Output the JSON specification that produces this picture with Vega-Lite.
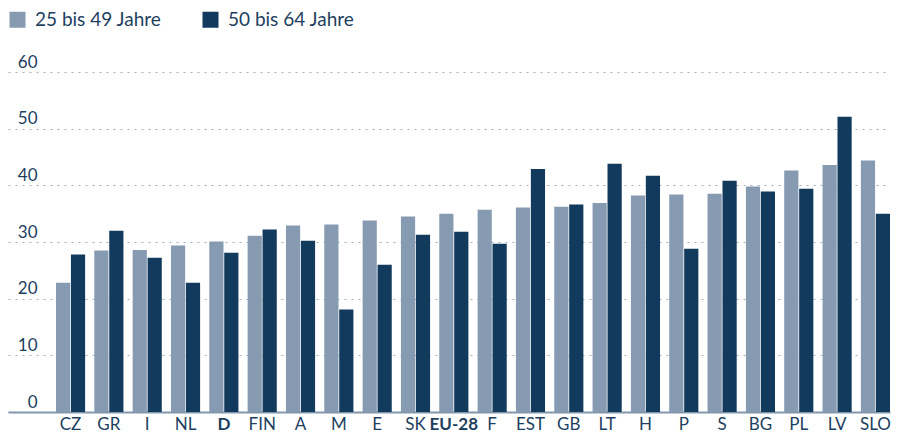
{
  "$schema": "https://vega.github.io/schema/vega-lite/v6.json",
  "width": 882,
  "height": 340,
  "autosize": "none",
  "padding": {"left": 8, "top": 72, "right": 7, "bottom": 22},
  "background": "white",
  "config": {
    "font": "Lato",
    "view": {"stroke": null}
  },
  "data": {
    "values": [
      {"land": "CZ", "gruppe": "25 bis 49 Jahre", "wert": 22.8},
      {"land": "CZ", "gruppe": "50 bis 64 Jahre", "wert": 27.8},
      {"land": "GR", "gruppe": "25 bis 49 Jahre", "wert": 28.5},
      {"land": "GR", "gruppe": "50 bis 64 Jahre", "wert": 32.0},
      {"land": "I", "gruppe": "25 bis 49 Jahre", "wert": 28.6},
      {"land": "I", "gruppe": "50 bis 64 Jahre", "wert": 27.2},
      {"land": "NL", "gruppe": "25 bis 49 Jahre", "wert": 29.4},
      {"land": "NL", "gruppe": "50 bis 64 Jahre", "wert": 22.8},
      {"land": "D", "gruppe": "25 bis 49 Jahre", "wert": 30.1},
      {"land": "D", "gruppe": "50 bis 64 Jahre", "wert": 28.1},
      {"land": "FIN", "gruppe": "25 bis 49 Jahre", "wert": 31.1},
      {"land": "FIN", "gruppe": "50 bis 64 Jahre", "wert": 32.2},
      {"land": "A", "gruppe": "25 bis 49 Jahre", "wert": 32.9},
      {"land": "A", "gruppe": "50 bis 64 Jahre", "wert": 30.2},
      {"land": "M", "gruppe": "25 bis 49 Jahre", "wert": 33.1},
      {"land": "M", "gruppe": "50 bis 64 Jahre", "wert": 18.1},
      {"land": "E", "gruppe": "25 bis 49 Jahre", "wert": 33.8},
      {"land": "E", "gruppe": "50 bis 64 Jahre", "wert": 26.0},
      {"land": "SK", "gruppe": "25 bis 49 Jahre", "wert": 34.5},
      {"land": "SK", "gruppe": "50 bis 64 Jahre", "wert": 31.3},
      {"land": "EU-28", "gruppe": "25 bis 49 Jahre", "wert": 35.0},
      {"land": "EU-28", "gruppe": "50 bis 64 Jahre", "wert": 31.8},
      {"land": "F", "gruppe": "25 bis 49 Jahre", "wert": 35.7},
      {"land": "F", "gruppe": "50 bis 64 Jahre", "wert": 29.7},
      {"land": "EST", "gruppe": "25 bis 49 Jahre", "wert": 36.1},
      {"land": "EST", "gruppe": "50 bis 64 Jahre", "wert": 42.9},
      {"land": "GB", "gruppe": "25 bis 49 Jahre", "wert": 36.2},
      {"land": "GB", "gruppe": "50 bis 64 Jahre", "wert": 36.6},
      {"land": "LT", "gruppe": "25 bis 49 Jahre", "wert": 36.9},
      {"land": "LT", "gruppe": "50 bis 64 Jahre", "wert": 43.8},
      {"land": "H", "gruppe": "25 bis 49 Jahre", "wert": 38.2},
      {"land": "H", "gruppe": "50 bis 64 Jahre", "wert": 41.7},
      {"land": "P", "gruppe": "25 bis 49 Jahre", "wert": 38.4},
      {"land": "P", "gruppe": "50 bis 64 Jahre", "wert": 28.8},
      {"land": "S", "gruppe": "25 bis 49 Jahre", "wert": 38.5},
      {"land": "S", "gruppe": "50 bis 64 Jahre", "wert": 40.8},
      {"land": "BG", "gruppe": "25 bis 49 Jahre", "wert": 39.8},
      {"land": "BG", "gruppe": "50 bis 64 Jahre", "wert": 38.9},
      {"land": "PL", "gruppe": "25 bis 49 Jahre", "wert": 42.6},
      {"land": "PL", "gruppe": "50 bis 64 Jahre", "wert": 39.4},
      {"land": "LV", "gruppe": "25 bis 49 Jahre", "wert": 43.6},
      {"land": "LV", "gruppe": "50 bis 64 Jahre", "wert": 52.1},
      {"land": "SLO", "gruppe": "25 bis 49 Jahre", "wert": 44.4},
      {"land": "SLO", "gruppe": "50 bis 64 Jahre", "wert": 35.0}
    ]
  },
  "mark": {"type": "bar"},
  "encoding": {
    "x": {
      "field": "land",
      "type": "nominal",
      "sort": null,
      "title": null,
      "scale": {"paddingInner": 0.24, "paddingOuter": 0.626, "align": 1},
      "axis": {
        "domain": true,
        "domainColor": "#8197ad",
        "domainWidth": 2,
        "ticks": false,
        "labelAngle": 0,
        "labelPadding": 4,
        "labelFontSize": 17,
        "labelColor": "#1e3f5f",
        "labelFontWeight": {"condition": {"test": "datum.value == 'D' || datum.value == 'EU-28'", "value": "bold"}, "value": "normal"},
        "grid": false
      }
    },
    "xOffset": {
      "field": "gruppe",
      "type": "nominal",
      "scale": {"paddingInner": 0.05}
    },
    "y": {
      "field": "wert",
      "type": "quantitative",
      "title": null,
      "scale": {"domain": [0, 60]},
      "axis": {
        "values": [0, 10, 20, 30, 40, 50, 60],
        "domain": false,
        "ticks": false,
        "labelAlign": "right",
        "labelBaseline": "alphabetic",
        "labelPadding": -29,
        "labelOffset": -5,
        "labelFontSize": 17,
        "labelColor": "#1e3f5f",
        "grid": true,
        "gridColor": "#9fb0c2",
        "gridDash": [2, 5],
        "gridWidth": 1.2
      }
    },
    "color": {
      "field": "gruppe",
      "type": "nominal",
      "scale": {"domain": ["25 bis 49 Jahre", "50 bis 64 Jahre"], "range": ["#869bb2", "#123a5c"]},
      "legend": {
        "title": null,
        "orient": "none",
        "direction": "horizontal",
        "legendX": 0,
        "legendY": -62,
        "symbolType": "square",
        "symbolSize": 256,
        "symbolOpacity": 1,
        "symbolStrokeWidth": 0,
        "labelFontSize": 19,
        "labelColor": "#1e3f5f",
        "labelOffset": 8,
        "columnPadding": 39
      }
    }
  }
}
